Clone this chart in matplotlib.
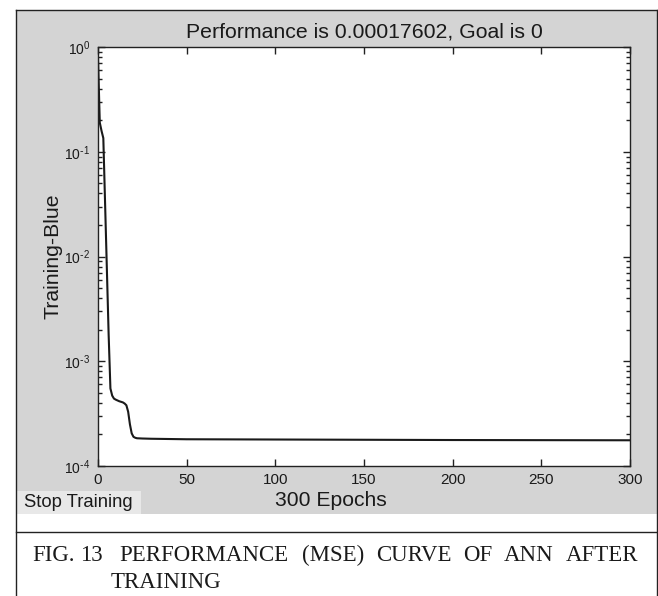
import math
import matplotlib
matplotlib.use("Agg")
import matplotlib.pyplot as plt
from matplotlib.lines import Line2D
from matplotlib.patches import Rectangle
from matplotlib.ticker import FixedLocator, FuncFormatter, LogLocator, NullFormatter

plt.rcParams['font.family'] = ['Liberation Sans', 'DejaVu Sans']
plt.rcParams['mathtext.default'] = 'regular'

# ---- data ----
epochs = [0, 1, 2, 3, 4, 5, 6, 7, 8, 9, 10, 12, 14, 15, 16, 17, 18, 19, 20, 21, 22,
          25, 30, 50, 100, 150, 200, 250, 300]
mse = [0.8, 0.19, 0.158, 0.135, 0.032, 0.0076, 0.0018, 0.00055, 0.00047, 0.00044,
       0.00043, 0.000415, 0.000405, 0.000395, 0.00038, 0.00033, 0.00025, 0.000205,
       0.00019, 0.000186, 0.000184, 0.000183, 0.000182, 0.00018, 0.000179,
       0.000178, 0.000177, 0.0001765, 0.00017602]
x_ticks = [0, 50, 100, 150, 200, 250, 300]
y_ticks = [1e-4, 1e-3, 1e-2, 1e-1, 1e0]
title_text = "Performance is 0.00017602, Goal is 0"
x_label = "300 Epochs"
y_label = "Training-Blue"
button_text = "Stop Training"
caption_line1 = ["FIG.", "13", "PERFORMANCE", "(MSE)", "CURVE", "OF", "ANN", "AFTER"]
caption_line2 = "TRAINING"

W, H = 658, 596
fig = plt.figure(figsize=(W / 100, H / 100), dpi=100)
fig.patch.set_facecolor('white')

def fx(px):
    return px / W

def fy(py):
    return 1 - py / H

# gray panel
fig.add_artist(Rectangle((fx(16), fy(514)), fx(657) - fx(16), fy(10) - fy(514),
                         transform=fig.transFigure, facecolor='#d4d4d4',
                         edgecolor='none', zorder=0))
# stop button
fig.add_artist(Rectangle((fx(17), fy(514)), fx(141) - fx(17), fy(491) - fy(514),
                         transform=fig.transFigure, facecolor='#e8e8e8',
                         edgecolor='none', zorder=1))
fig.text(fx(24), fy(502.5), button_text, fontsize=13.3, ha='left', va='center',
         color='#1a1a1a')

# borders
bc = '#222222'
for xs, ys in [((16, 16), (10, 596)), ((657, 657), (10, 596)),
               ((16, 657), (10, 10)), ((16, 657), (532, 532))]:
    fig.add_artist(Line2D([fx(xs[0]), fx(xs[1])], [fy(ys[0]), fy(ys[1])],
                          transform=fig.transFigure, color=bc, lw=1.0, zorder=3))

# axes
ax = fig.add_axes([fx(98), fy(466), fx(630) - fx(98), fy(47) - fy(466)])
ax.set_facecolor('white')
ax.plot(epochs, mse, color='#1a1a1a', lw=1.5, solid_joinstyle='round')
ax.set_yscale('log')
ax.set_xlim(0, 300)
ax.set_ylim(1e-4, 1e0)

def ylab(v, p):
    e = int(round(math.log10(v)))
    if e < 0:
        return r'$10^{\text{-}%d}$' % (-e)
    return r'$10^{%d}$' % e

ax.xaxis.set_major_locator(FixedLocator(x_ticks))
ax.yaxis.set_major_locator(FixedLocator(y_ticks))
ax.yaxis.set_minor_locator(LogLocator(base=10, subs=range(2, 10)))
ax.yaxis.set_minor_formatter(NullFormatter())
ax.yaxis.set_major_formatter(FuncFormatter(ylab))

ax.tick_params(which='both', direction='in', top=True, right=True,
               colors='#222222', labelcolor='#1a1a1a', width=1.0)
ax.tick_params(which='major', length=5)
ax.tick_params(which='minor', length=3)
ax.tick_params(axis='x', pad=5, labelsize=11)
ax.tick_params(axis='y', pad=5.5, labelsize=10)
for s in ax.spines.values():
    s.set_color('#222222')
    s.set_linewidth(1.0)

ax.text(0.5, 1.023, title_text, transform=ax.transAxes, ha='center',
        va='baseline', fontsize=15.3, color='#1a1a1a')
ax.set_xlabel(x_label, fontsize=15.2, color='#1a1a1a')
ax.xaxis.set_label_coords(0.438, -0.06)
ax.set_ylabel(y_label, fontsize=15.3, color='#1a1a1a')
ax.yaxis.set_label_coords(-0.066, 0.5)

# caption
cap_cx = [54, 91.5, 203.5, 333, 413.5, 477.5, 529, 602.5]
for word, xc in zip(caption_line1, cap_cx):
    fig.text(fx(xc), fy(561), word, fontsize=16.5, family='Liberation Serif',
             ha='center', va='baseline', color='#1a1a1a')
fig.text(fx(165.5), fy(588), caption_line2, fontsize=16.5, family='Liberation Serif',
         ha='center', va='baseline', color='#1a1a1a')

fig.savefig('out.png', dpi=100)
